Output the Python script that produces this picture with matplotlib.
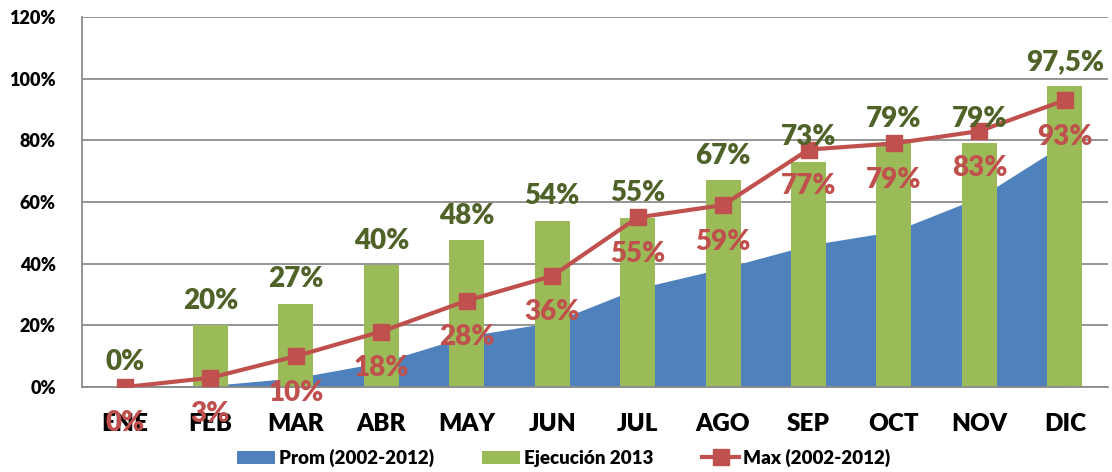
import matplotlib
matplotlib.use("Agg")
import matplotlib.pyplot as plt
import numpy as np

# --- datos ---
meses = ["ENE", "FEB", "MAR", "ABR", "MAY", "JUN", "JUL", "AGO", "SEP", "OCT", "NOV", "DIC"]
prom = [0, 0.5, 3, 8, 16.5, 21, 32, 38.5, 46, 50.5, 61.5, 79]
ejecucion = [0, 20, 27, 39.5, 47.6, 54, 54.8, 67, 73, 79, 79, 97.5]
ejecucion_lbl = ["0%", "20%", "27%", "40%", "48%", "54%", "55%", "67%", "73%", "79%", "79%", "97,5%"]
maximo = [0, 3, 10, 18, 28, 36, 55, 59, 77, 79, 83, 93]
maximo_lbl = ["0%", "3%", "10%", "18%", "28%", "36%", "55%", "59%", "77%", "79%", "83%", "93%"]

AZUL = "#4F81BD"
VERDE = "#9BBB59"
ROJO = "#C0504D"
VERDE_OSC = "#4F6228"
GRIS = "#8C8C8C"
PESO = "heavy"

plt.rcParams["font.family"] = ["Lato", "DejaVu Sans"]

fig = plt.figure(figsize=(11.12, 4.72), dpi=100)
ax = fig.add_axes([0.074, 0.180, 0.922, 0.784])

x = np.arange(len(meses))

h_area = ax.fill_between(x, prom, color=AZUL, lw=0, zorder=1, label="Prom (2002-2012)")
h_bar = ax.bar(x, ejecucion, width=0.41, color=VERDE, zorder=2, label="Ejecución 2013")
h_line, = ax.plot(x, maximo, color=ROJO, lw=3, marker="s", markersize=11, zorder=3,
                  label="Max (2002-2012)")

# etiquetas
for xi, v, t in zip(x, ejecucion, ejecucion_lbl):
    ax.annotate(t, (xi, v), xytext=(0, 12), textcoords="offset points",
                ha="center", va="baseline", fontsize=20, fontweight=PESO,
                color=VERDE_OSC, zorder=4, annotation_clip=False)
for xi, v, t in zip(x, maximo, maximo_lbl):
    ax.annotate(t, (xi, v), xytext=(0, -32), textcoords="offset points",
                ha="center", va="baseline", fontsize=20, fontweight=PESO,
                color=ROJO, zorder=4, annotation_clip=False)

ax.set_xlim(-0.5, 11.5)
ax.set_ylim(0, 120)
ax.set_yticks(np.arange(0, 121, 20))
ax.set_yticklabels([f"{v}%" for v in range(0, 121, 20)], fontsize=13, fontweight=PESO)
ax.set_xticks(x)
ax.set_xticklabels(meses, fontsize=17.5, fontweight=PESO)
ax.tick_params(axis="y", length=0, pad=19)
ax.tick_params(axis="x", length=0, pad=19)

ax.set_axisbelow(True)
ax.grid(axis="y", color=GRIS, lw=1.3)
for s in ["top", "right"]:
    ax.spines[s].set_visible(False)
ax.spines["left"].set_color(GRIS)
ax.spines["bottom"].set_color(GRIS)
ax.spines["left"].set_linewidth(1.3)
ax.spines["bottom"].set_linewidth(1.3)

fig.legend([h_area, h_bar, h_line],
           ["Prom (2002-2012)", "Ejecución 2013", "Max (2002-2012)"],
           loc="center", bbox_to_anchor=(0.507, 0.03), ncol=3, frameon=False,
           prop={"size": 13.5, "weight": PESO}, handlelength=2.0,
           handletextpad=0.2, columnspacing=2.6)

fig.savefig("out.png", dpi=100)
